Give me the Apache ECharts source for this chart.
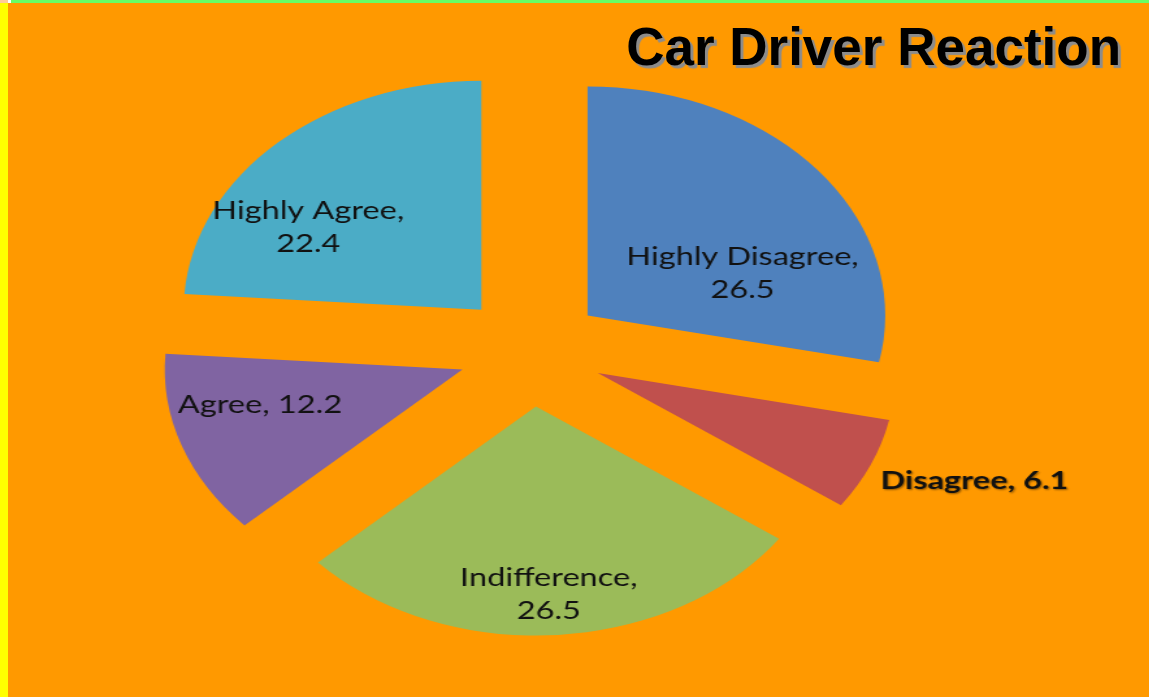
<!DOCTYPE html>
<html><head><meta charset="utf-8">
<script src="https://cdn.jsdelivr.net/npm/echarts@6/dist/echarts.min.js"></script>
<style>
html,body{margin:0;padding:0;width:1162px;height:697px;overflow:hidden;background:#FF9900;}
#frame{position:absolute;left:0;top:0;width:1162px;height:697px;}
#pie{position:absolute;left:0;top:0;width:894px;height:697px;transform:scaleX(1.3);transform-origin:0 0;}
</style></head><body>
<div id="frame"></div><div id="pie"></div>
<script>
const chartTitle = 'Car Driver Reaction';
const categories = ['Highly Disagree', 'Disagree', 'Indifference', 'Agree', 'Highly Agree'];
const values = [26.5, 6.1, 26.5, 12.2, 22.4];
const colors = ['#4F81BD', '#C0504D', '#9BBB59', '#8064A2', '#4BACC6'];
const labelTwoLines = [true, false, true, false, true];
const labelShift = [[28, 32], [182, 61], [2, 71], [-45, -4], [-53, 4]];

const frame = echarts.init(document.getElementById('frame'), null, {renderer: 'canvas'});
frame.setOption({
  animation: false,
  backgroundColor: '#FF9900',
  title: {
    text: chartTitle, right: 41, top: 24, padding: 0,
    textStyle: {
      fontFamily: 'Liberation Sans', fontWeight: 'bold', fontSize: 53, color: '#000',
      textShadowColor: '#8c8c8c', textShadowOffsetX: 3, textShadowOffsetY: 3, textShadowBlur: 1
    }
  },
  graphic: [
    {type: 'rect', shape: {x: 0, y: 0, width: 8, height: 697}, style: {fill: '#FFFF00'}},
    {type: 'rect', shape: {x: 0, y: 0, width: 8, height: 3}, style: {fill: '#FFCC99'}},
    {type: 'rect', shape: {x: 8, y: 0, width: 3, height: 3}, style: {fill: '#FFFFFF'}},
    {type: 'rect', shape: {x: 11, y: 0, width: 1138, height: 3}, style: {fill: '#66FF66'}},
    {type: 'rect', shape: {x: 1149, y: 0, width: 13, height: 697}, style: {fill: '#FFFFFF'}}
  ]
});

const pie = echarts.init(document.getElementById('pie'), null, {renderer: 'canvas'});
pie.setOption({
  animation: false,
  series: [{
    type: 'pie',
    center: [408.5, 350.7],
    radius: 229,
    startAngle: 90,
    clockwise: true,
    selectedMode: 'multiple',
    selectedOffset: 56,
    avoidLabelOverlap: false,
    emphasis: {disabled: true},
    itemStyle: {borderWidth: 0},
    labelLine: {show: false},
    label: {
      show: true, position: 'inside',
      fontFamily: 'Lato', fontSize: 25, lineHeight: 33, color: '#111', align: 'center'
    },
    labelLayout: function (p) {
      return {dx: labelShift[p.dataIndex][0], dy: labelShift[p.dataIndex][1]};
    },
    data: categories.map(function (name, i) {
      const lab = {formatter: labelTwoLines[i] ? '{b},\n{c}' : '{b}, {c}'};
      if (name === 'Disagree') {
        lab.fontWeight = 'bold';
        lab.textShadowColor = 'rgba(0,0,0,0.45)';
        lab.textShadowBlur = 2;
        lab.textShadowOffsetX = 1;
        lab.textShadowOffsetY = 1;
      }
      return {name: name, value: values[i], selected: true, itemStyle: {color: colors[i]}, label: lab};
    })
  }]
});
</script>
</body></html>
